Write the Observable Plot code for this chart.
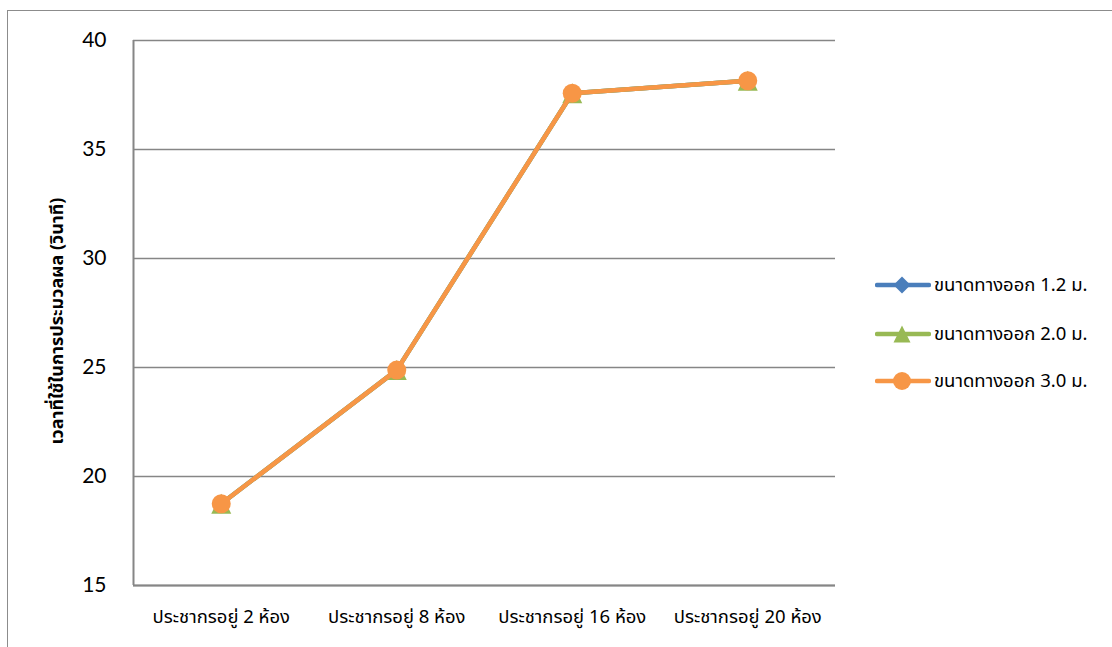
<!DOCTYPE html>
<html>
<head>
<meta charset="utf-8">
<script src="https://cdn.jsdelivr.net/npm/d3@7"></script>
<script src="https://cdn.jsdelivr.net/npm/@observablehq/plot@0.6"></script>
<style>
  html, body { margin: 0; padding: 0; background: #fff; overflow: hidden; }
  #wrap { position: relative; width: 1112px; height: 647px; overflow: hidden; }
  #border { position: absolute; left: 7px; top: 10px; width: 1200px; height: 700px; border: 1px solid #8c8c8c; }
  #chart { position: absolute; left: 0; top: 0; }
  #legend { position: absolute; left: 0; top: 0; font-family: "Noto Sans Thai", Tahoma, "Noto Sans", sans-serif; font-size: 18.5px; color: #000; }
  .row { position: absolute; left: 875px; display: flex; align-items: center; height: 24px; white-space: nowrap; }
  .row svg { display: block; margin-right: 3px; }
</style>
</head>
<body>
<div id="wrap">
  <div id="border"></div>
  <div id="chart"></div>
  <div id="legend"></div>
</div>
<script>
// Categories (number of rooms with waiting occupants)
const categories = ["ประชากรอยู่ 2 ห้อง", "ประชากรอยู่ 8 ห้อง", "ประชากรอยู่ 16 ห้อง", "ประชากรอยู่ 20 ห้อง"];

// Processing time (seconds) per exit width
const exit12 = [18.75, 24.88, 37.58, 38.15];
const exit20 = [18.75, 24.88, 37.58, 38.15];
const exit30 = [18.75, 24.88, 37.58, 38.15];

const seriesNames = ["ขนาดทางออก 1.2 ม.", "ขนาดทางออก 2.0 ม.", "ขนาดทางออก 3.0 ม."];
const seriesColors = ["#4a7ebb", "#98b954", "#f79646"];
const yTicks = [15, 20, 25, 30, 35, 40];
const yLabel = "เวลาที่ใช้ในการประมวลผล (วินาที)";

const thaiFont = '"Noto Sans Thai", Tahoma, "Noto Sans", sans-serif';

// Marker shapes: diamond, bbox-centred triangle, circle
const diamondSym = {
  draw(ctx, size) {
    const r = Math.sqrt(size / Math.PI);
    ctx.moveTo(0, -r); ctx.lineTo(r, 0); ctx.lineTo(0, r); ctx.lineTo(-r, 0); ctx.closePath();
  }
};
const triangleSym = {
  draw(ctx, size) {
    const r = Math.sqrt(size / Math.PI);
    ctx.moveTo(0, -r); ctx.lineTo(r, r); ctx.lineTo(-r, r); ctx.closePath();
  }
};
const symbols = [diamondSym, triangleSym, "circle"];
const radii = [8.5, 10, 9.5];

const allValues = [exit12, exit20, exit30];
const data = allValues.flatMap((vals, s) =>
  vals.map((v, i) => ({ series: s, pos: i + 0.5, value: v }))
);

// Each series: its line, then its markers on top
const seriesMarks = allValues.flatMap((vals, s) => {
  const d = data.filter(r => r.series === s);
  return [
    Plot.line(d, { x: "pos", y: "value", stroke: seriesColors[s], strokeWidth: 4.5, strokeLinejoin: "round", strokeLinecap: "round" }),
    Plot.dot(d, { x: "pos", y: "value", fill: seriesColors[s], stroke: "none", symbol: () => symbols[s], r: radii[s] })
  ];
});

const chart = Plot.plot({
  width: 1112,
  height: 647,
  marginLeft: 133,
  marginRight: 277,
  marginTop: 40,
  marginBottom: 62,
  style: { background: "transparent", overflow: "visible" },
  symbol: { type: "identity" },
  x: { domain: [0, categories.length], axis: null },
  y: { domain: [15, 40], axis: null },
  marks: [
    Plot.gridY(yTicks, { stroke: "#868686", strokeOpacity: 1, strokeWidth: 1.5 }),
    Plot.ruleX([0], { y1: 15, y2: 40, stroke: "#868686", strokeWidth: 2 }),
    Plot.ruleY([15], { stroke: "#868686", strokeWidth: 2 }),
    Plot.axisY(yTicks, { tickSize: 0, tickPadding: 27, fontSize: 21, fontFamily: "Lato, sans-serif", fill: "#000", label: null }),
    Plot.axisX(categories.map((c, i) => i + 0.5), {
      tickSize: 0, tickPadding: 24, fontSize: 18.5, fontFamily: thaiFont, fill: "#000",
      tickFormat: (d) => categories[Math.floor(d)], label: null
    }),
    Plot.text([yLabel], { frameAnchor: "left", textAnchor: "middle", rotate: -90, dx: -76, dy: 8, fontSize: 18, fontWeight: "bold", fontFamily: thaiFont, fill: "#000" }),
    ...seriesMarks
  ]
});
document.getElementById("chart").appendChild(chart);

// Legend on the right
const legend = d3.select("#legend");
const rowCenters = [285, 334, 381];
seriesNames.forEach((name, s) => {
  const row = legend.append("div").attr("class", "row").style("top", (rowCenters[s] - 12) + "px");
  const svg = row.append("svg").attr("width", 56).attr("height", 24);
  svg.append("line").attr("x1", 2).attr("x2", 54).attr("y1", 12).attr("y2", 12)
    .attr("stroke", seriesColors[s]).attr("stroke-width", 4.5).attr("stroke-linecap", "round");
  const sym = symbols[s] === "circle" ? d3.symbolCircle : symbols[s];
  const r = [8.5, 8.5, 9][s];
  svg.append("path").attr("transform", "translate(27,12)")
    .attr("d", d3.symbol(sym, Math.PI * r * r)()).attr("fill", seriesColors[s]);
  row.append("span").text(name);
});
</script>
</body>
</html>
